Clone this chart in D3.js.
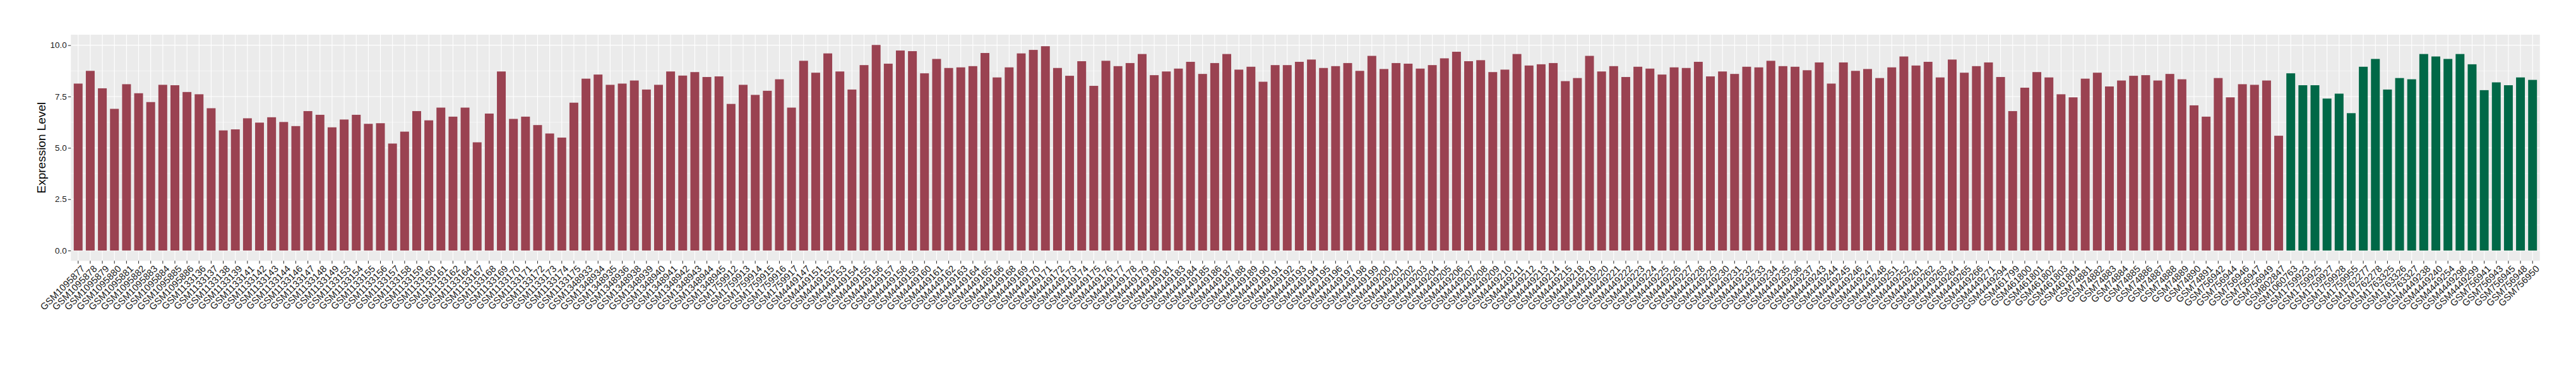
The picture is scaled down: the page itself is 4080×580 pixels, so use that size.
<!DOCTYPE html>
<html>
<head>
<meta charset="utf-8">
<script src="https://cdn.jsdelivr.net/npm/d3@7"></script>
<style>
  body { margin: 0; background: #fff; }
  text { font-family: "Liberation Sans", Arial, Helvetica, sans-serif; }
</style>
</head>
<body>
<div id="chart"></div>
<script>
// tumour samples (red bars)
const tumorSamples = [
  "GSM1095877","GSM1095878","GSM1095879","GSM1095880","GSM1095881","GSM1095882","GSM1095883","GSM1095884","GSM1095885","GSM1095886",
  "GSM1133136","GSM1133137","GSM1133138","GSM1133139","GSM1133141","GSM1133142","GSM1133143","GSM1133144","GSM1133146","GSM1133147",
  "GSM1133148","GSM1133149","GSM1133153","GSM1133154","GSM1133155","GSM1133156","GSM1133157","GSM1133158","GSM1133159","GSM1133160",
  "GSM1133161","GSM1133162","GSM1133164","GSM1133167","GSM1133168","GSM1133169","GSM1133170","GSM1133171","GSM1133172","GSM1133173",
  "GSM1133174","GSM1133175","GSM1348933","GSM1348934","GSM1348935","GSM1348936","GSM1348938","GSM1348939","GSM1348940","GSM1348941",
  "GSM1348942","GSM1348943","GSM1348944","GSM1348945","GSM1759912","GSM1759913","GSM1759914","GSM1759915","GSM1759916","GSM1759917",
  "GSM4449147","GSM4449151","GSM4449152","GSM4449153","GSM4449154","GSM4449155","GSM4449156","GSM4449157","GSM4449158","GSM4449159",
  "GSM4449160","GSM4449161","GSM4449162","GSM4449163","GSM4449164","GSM4449165","GSM4449166","GSM4449168","GSM4449169","GSM4449170",
  "GSM4449171","GSM4449172","GSM4449173","GSM4449174","GSM4449175","GSM4449176","GSM4449177","GSM4449178","GSM4449179","GSM4449180",
  "GSM4449181","GSM4449183","GSM4449184","GSM4449185","GSM4449186","GSM4449187","GSM4449188","GSM4449189","GSM4449190","GSM4449191",
  "GSM4449192","GSM4449193","GSM4449194","GSM4449195","GSM4449196","GSM4449197","GSM4449198","GSM4449199","GSM4449200","GSM4449201",
  "GSM4449202","GSM4449203","GSM4449204","GSM4449205","GSM4449206","GSM4449207","GSM4449208","GSM4449209","GSM4449210","GSM4449211",
  "GSM4449212","GSM4449213","GSM4449214","GSM4449215","GSM4449218","GSM4449219","GSM4449220","GSM4449221","GSM4449222","GSM4449223",
  "GSM4449224","GSM4449225","GSM4449226","GSM4449227","GSM4449228","GSM4449229","GSM4449230","GSM4449231","GSM4449232","GSM4449233",
  "GSM4449234","GSM4449235","GSM4449236","GSM4449237","GSM4449243","GSM4449244","GSM4449245","GSM4449246","GSM4449247","GSM4449248",
  "GSM4449251","GSM4449252","GSM4449261","GSM4449262","GSM4449263","GSM4449264","GSM4449265","GSM4449266","GSM4449271","GSM4449294",
  "GSM461799","GSM461800","GSM461801","GSM461802","GSM461803","GSM461804","GSM74881","GSM74882","GSM74883","GSM74884",
  "GSM74885","GSM74886","GSM74887","GSM74888","GSM74889","GSM74890","GSM74891","GSM756942","GSM756944","GSM756946",
  "GSM756947","GSM756949","GSM802847"
];
const tumorValues = [
  8.13,8.75,7.90,6.90,8.10,7.66,7.23,8.07,8.05,7.72,
  7.61,6.93,5.85,5.90,6.44,6.23,6.49,6.26,6.06,6.79,
  6.61,6.00,6.38,6.61,6.17,6.20,5.21,5.79,6.79,6.34,
  6.96,6.52,6.96,5.27,6.67,8.72,6.41,6.52,6.11,5.70,
  5.50,7.20,8.37,8.57,8.07,8.13,8.28,7.84,8.07,8.72,
  8.52,8.69,8.45,8.48,7.14,8.07,7.58,7.78,8.34,6.96,
  9.24,8.66,9.60,8.72,7.84,9.03,10.01,9.10,9.74,9.71,
  8.63,9.33,8.89,8.92,8.98,9.62,8.43,8.92,9.60,9.77,
  9.95,8.89,8.51,9.22,8.02,9.24,8.98,9.13,9.57,8.54,
  8.72,8.86,9.19,8.60,9.13,9.57,8.81,8.95,8.22,9.03,
  9.03,9.19,9.30,8.89,8.98,9.13,8.75,9.48,8.84,9.13,
  9.10,8.86,9.03,9.36,9.68,9.22,9.27,8.69,8.81,9.57,
  9.01,9.07,9.13,8.25,8.40,9.48,8.72,8.98,8.45,8.95,
  8.86,8.57,8.92,8.89,9.19,8.48,8.72,8.60,8.95,8.92,
  9.24,8.98,8.95,8.78,9.16,8.13,9.16,8.75,8.84,8.40,
  8.92,9.45,9.01,9.19,8.43,9.30,8.66,8.98,9.16,8.45,
  6.79,7.93,8.69,8.43,7.61,7.46,8.37,8.66,7.99,8.28,
  8.51,8.54,8.28,8.60,8.34,7.07,6.52,8.40,7.46,8.10,
  8.07,8.28,5.59
];

// normal samples (green bars)
const normalSamples = [
  "GSM1060763","GSM1759923","GSM1759925","GSM1759927","GSM1759928","GSM1759955","GSM1762277","GSM1762278","GSM1763325","GSM1763326",
  "GSM1763327","GSM4449238","GSM4449240","GSM4449254","GSM4449298","GSM4449299","GSM756941","GSM756943","GSM756945","GSM756948",
  "GSM756950"
];
const normalValues = [
  8.63,8.05,8.05,7.40,7.64,6.69,8.95,9.33,7.84,8.40,
  8.34,9.57,9.45,9.33,9.57,9.07,7.81,8.19,8.05,8.43,
  8.31
];

const yTicks = [0, 2.5, 5, 7.5, 10];
const yMinorTicks = [1.25, 3.75, 6.25, 8.75];

const tumorColor = "#9A4251", normalColor = "#006847";

const bars = tumorSamples.map((s, i) => ({ sample: s, value: tumorValues[i], color: tumorColor }))
  .concat(normalSamples.map((s, i) => ({ sample: s, value: normalValues[i], color: normalColor })));

const canvWidth = 4080, canvHeight = 580;
const panel = { left: 112.3, right: 4022.7, top: 55, bottom: 413.3 };

const svg = d3.select("#chart").append("svg")
  .attr("width", canvWidth)
  .attr("height", canvHeight);

// band centre sits 0.6 steps from panel edge, like ggplot's discrete expand
const padInner = 0.27;
const xScale = d3.scaleBand()
  .domain(bars.map(d => d.sample))
  .range([panel.left, panel.right])
  .paddingInner(padInner)
  .paddingOuter(0.6 - (1 - padInner) / 2);

const yMax = d3.max(bars, d => d.value);
const yPad = yMax * 0.05;
const yScale = d3.scaleLinear()
  .domain([-yPad, yMax + yPad])
  .range([panel.bottom, panel.top]);

// panel background
svg.append("rect")
  .attr("x", panel.left)
  .attr("y", panel.top)
  .attr("width", panel.right - panel.left)
  .attr("height", panel.bottom - panel.top)
  .attr("fill", "#EBEBEB");

const grid = svg.append("g").attr("id", "grid");

grid.selectAll("line.minor")
  .data(yMinorTicks)
  .enter()
  .append("line")
  .attr("class", "minor")
  .attr("x1", panel.left).attr("x2", panel.right)
  .attr("y1", d => yScale(d)).attr("y2", d => yScale(d))
  .style("stroke", "#fff")
  .style("stroke-width", 0.55);

grid.selectAll("line.major")
  .data(yTicks)
  .enter()
  .append("line")
  .attr("class", "major")
  .attr("x1", panel.left).attr("x2", panel.right)
  .attr("y1", d => yScale(d)).attr("y2", d => yScale(d))
  .style("stroke", "#fff")
  .style("stroke-width", 1.1);

grid.selectAll("line.vert")
  .data(bars)
  .enter()
  .append("line")
  .attr("class", "vert")
  .attr("x1", d => xScale(d.sample) + xScale.bandwidth() / 2)
  .attr("x2", d => xScale(d.sample) + xScale.bandwidth() / 2)
  .attr("y1", panel.top).attr("y2", panel.bottom)
  .style("stroke", "#fff")
  .style("stroke-width", 1.1);

svg.append("g")
  .attr("id", "bars")
  .selectAll("rect")
  .data(bars)
  .enter()
  .append("rect")
  .attr("x", d => xScale(d.sample))
  .attr("y", d => yScale(d.value))
  .attr("width", xScale.bandwidth())
  .attr("height", d => yScale(0) - yScale(d.value))
  .style("fill", d => d.color);

// y axis
const yAxis = d3.axisLeft(yScale)
  .tickValues(yTicks)
  .tickFormat(d3.format(".1f"))
  .tickSize(4.5)
  .tickPadding(2);

const yAxisG = svg.append("g")
  .attr("id", "yAxis")
  .attr("transform", `translate(${panel.left},0)`)
  .call(yAxis);
yAxisG.select(".domain").remove();
yAxisG.selectAll("line").style("stroke", "#333").style("stroke-width", 1.1);
yAxisG.selectAll("text")
  .style("font-size", "13.5px")
  .style("fill", "#1a1a1a")
  .style("font-family", "'Liberation Sans', Arial, sans-serif");

// x axis, labels at 45 degrees ending at the tick
const xAxis = d3.axisBottom(xScale).tickSize(4.5);
const xAxisG = svg.append("g")
  .attr("id", "xAxis")
  .attr("transform", `translate(0,${panel.bottom})`)
  .call(xAxis);
xAxisG.select(".domain").remove();
xAxisG.selectAll("line").style("stroke", "#333").style("stroke-width", 1.1);
xAxisG.selectAll("text")
  .attr("x", 0)
  .attr("y", 0)
  .attr("dy", "0.72em")
  .attr("transform", "translate(4,6) rotate(-45)")
  .style("text-anchor", "end")
  .style("font-size", "15px")
  .style("fill", "#1a1a1a")
  .style("font-family", "'Liberation Sans', Arial, sans-serif");

svg.append("text")
  .attr("id", "y-title")
  .attr("transform", `translate(72,${(panel.top + panel.bottom) / 2}) rotate(-90)`)
  .style("text-anchor", "middle")
  .style("font-size", "19px")
  .style("fill", "#000")
  .text("Expression Level");
</script>
</body>
</html>
